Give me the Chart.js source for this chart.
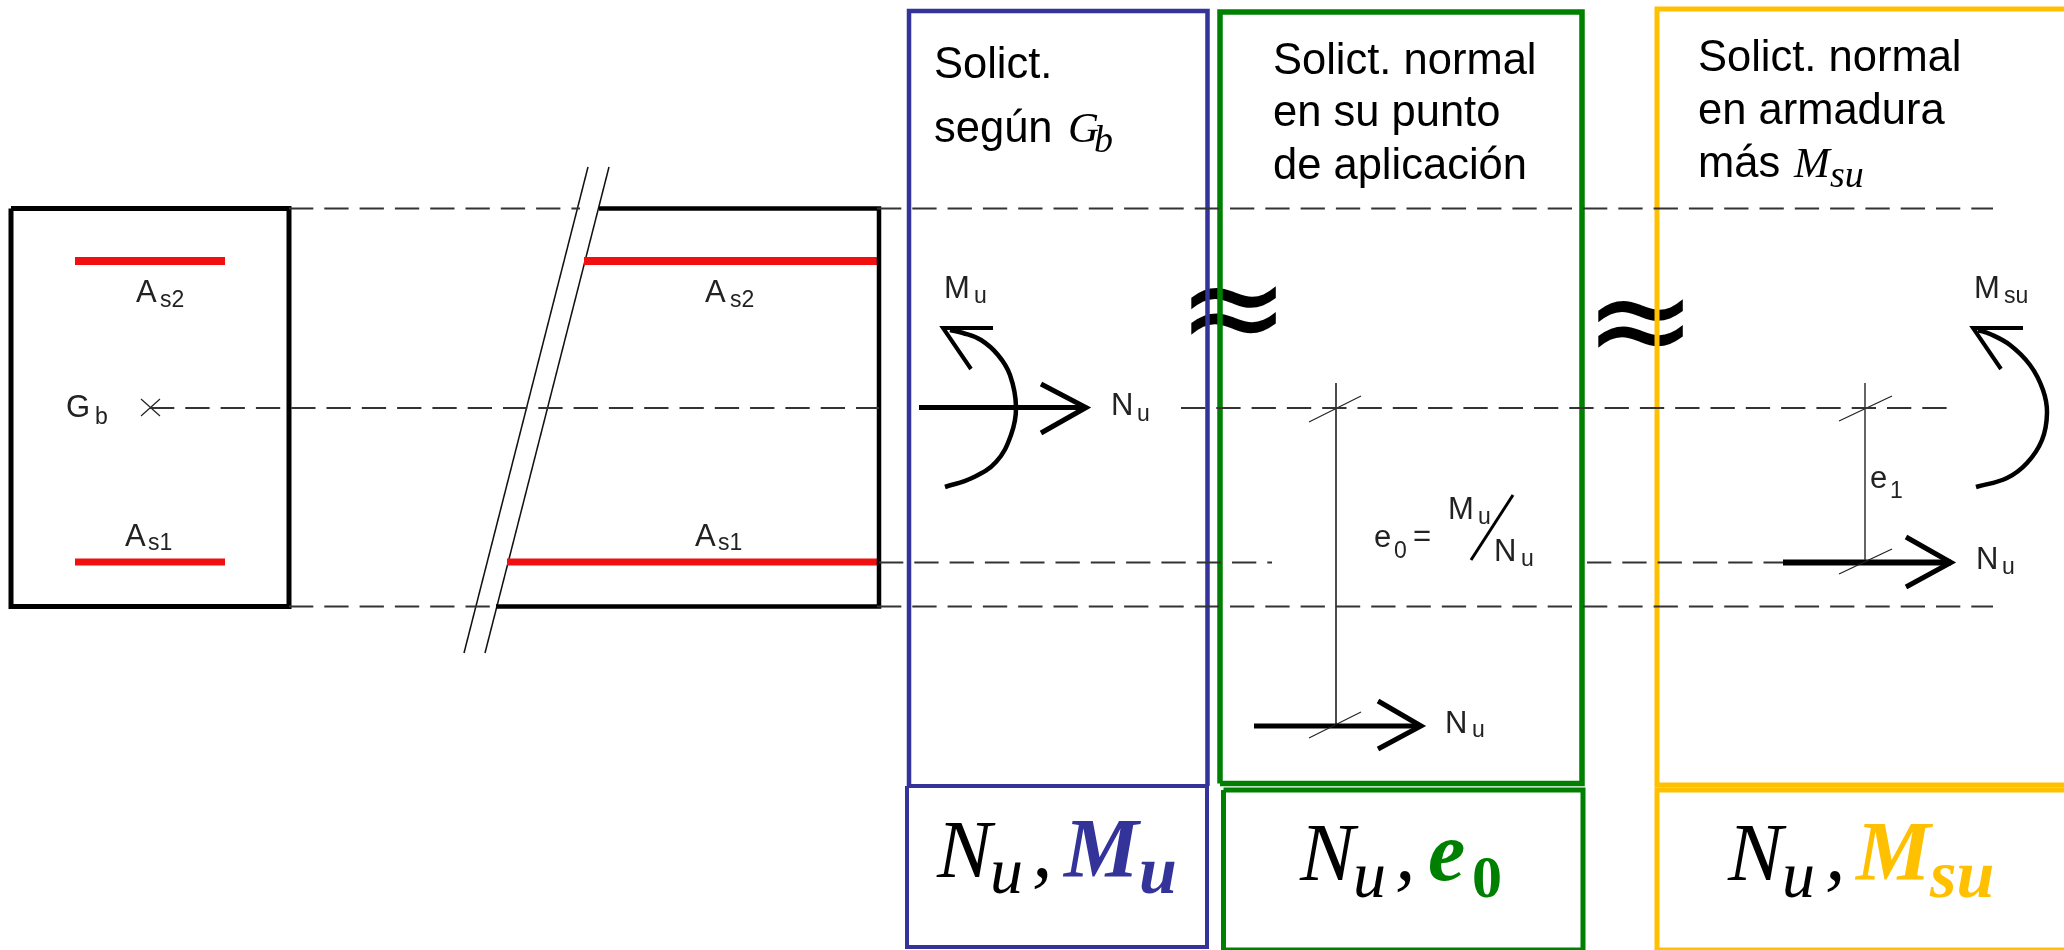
<!DOCTYPE html>
<html>
<head>
<meta charset="utf-8">
<title>Solicitaciones</title>
<script src="https://cdn.jsdelivr.net/npm/chart.js@4/dist/chart.umd.min.js"></script>
<style>
html, body { margin: 0; padding: 0; background: #fff; overflow: hidden; }
canvas { display: block; }
</style>
</head>
<body>
<canvas id="chart" width="2064" height="950"></canvas>
<script>
// section drawing (x, y in picture units)
var dashTop = [[289, 208.5], [580, 208.5]];
var dashTopRight = [[877, 208.5], [1993, 208.5]];
var dashMidA = [[150, 408], [879, 408]];
var dashMidB = [[1181, 408], [1949, 408]];
var dashLowA = [[879, 562.5], [1272, 562.5]];
var dashLowB = [[1587, 562.5], [1783, 562.5]];
var dashBotA = [[289, 606.5], [495, 606.5]];
var dashBotB = [[877, 606.5], [1993, 606.5]];

var sectionLeft = [[11, 208.5], [289, 208.5], [289, 606.5], [11, 606.5], [11, 208.5]];
var sectionRight = [[599, 208.5], [879, 208.5], [879, 606.5], [496, 606.5]];
var rebarTopLeft = [[75, 261], [225, 261]];
var rebarBotLeft = [[75, 562], [225, 562]];
var rebarTopRight = [[584, 261], [879, 261]];
var rebarBotRight = [[507, 562], [879, 562]];
var breakLine1 = [[588, 167], [464, 653]];
var breakLine2 = [[609, 167], [485, 653]];
var crossA = [[141, 399], [160, 416]];
var crossB = [[160, 399], [141, 416]];

var boxBlue = [[909, 786], [909, 11], [1207.5, 11], [1207.5, 786]];
var boxBlueLow = [[907, 786], [1207, 786], [1207, 947], [907, 947], [907, 786]];
var boxGreen = [[1220, 783.5], [1220, 12], [1582, 12], [1582, 783.5], [1220, 783.5]];
var boxGreenLow = [[1223.5, 790], [1583, 790], [1583, 950], [1223.5, 950], [1223.5, 790]];
var boxYellow = [[2064, 9], [1657, 9], [1657, 785], [2064, 785]];
var boxYellowLow = [[2064, 790], [1657, 790], [1657, 950], [2064, 950]];

var nuShaftA = [[919, 407.5], [1086, 407.5]];
var nuHeadA = [[1041, 384], [1086, 407.5], [1041, 433]];
var muCurve = [[950, 330], [963, 333], [981, 340], [998, 355], [1010, 375], [1016, 407], [1011, 435], [996, 462], [972, 478], [945, 487]];
var muHead = [[993, 328], [943, 328], [971, 369]];

var axisMid = [[1336, 383], [1336, 725]];
var tickMidA = [[1309, 422], [1361, 396]];
var tickMidB = [[1309, 738], [1361, 712]];
var nuShaftB = [[1254, 726], [1421, 726]];
var nuHeadB = [[1378, 701], [1421, 726], [1378, 749]];
var fractionBar = [[1513, 495], [1471, 560]];

var axisRight = [[1865, 383], [1865, 560]];
var tickRightA = [[1839, 421], [1892, 396]];
var tickRightB = [[1839, 574], [1892, 549]];
var nuShaftC = [[1783, 562.5], [1951, 562.5]];
var nuHeadC = [[1906, 537], [1951, 562.5], [1906, 587]];
var msuCurve = [[1978, 330], [1990, 334], [2010, 345], [2030, 365], [2043, 390], [2047, 413], [2042, 440], [2027, 463], [2007, 478], [1976, 487]];
var msuHead = [[2023, 328], [1973, 328], [2001, 369]];

// text: string, x, baseline y, font, colour
var labelsBehind = [
    ['≈', 1177, 353, 'approx', '#000'],
    ['≈', 1584, 366, 'approx', '#000']
];
var labels = [
    ['A', 136, 302, 'tag', '#222'], ['s2', 160, 307, 'tagSub', '#222'],
    ['A', 125, 546, 'tag', '#222'], ['s1', 148, 550, 'tagSub', '#222'],
    ['A', 705, 302, 'tag', '#222'], ['s2', 730, 307, 'tagSub', '#222'],
    ['A', 695, 546, 'tag', '#222'], ['s1', 718, 550, 'tagSub', '#222'],
    ['G', 66, 417, 'tag', '#222'], ['b', 95, 424, 'tagSub', '#222'],
    ['M', 944, 298, 'tag', '#222'], ['u', 974, 303, 'tagSub', '#222'],
    ['N', 1111, 415, 'tag', '#222'], ['u', 1137, 421, 'tagSub', '#222'],
    ['N', 1445, 733, 'tag', '#222'], ['u', 1472, 737, 'tagSub', '#222'],
    ['e', 1374, 547, 'tag', '#222'], ['0', 1394, 558, 'tagSub', '#222'], ['=', 1413, 546, 'tag', '#222'],
    ['M', 1448, 519, 'tag', '#222'], ['u', 1478, 524, 'tagSub', '#222'],
    ['N', 1494, 561, 'tag', '#222'], ['u', 1521, 566, 'tagSub', '#222'],
    ['M', 1974, 298, 'tag', '#222'], ['su', 2004, 303, 'tagSub', '#222'],
    ['e', 1870, 488, 'tag', '#222'], ['1', 1890, 498, 'tagSub', '#222'],
    ['N', 1976, 569, 'tag', '#222'], ['u', 2002, 574, 'tagSub', '#222'],

    ['Solict.', 934, 78, 'head', '#000'],
    ['según', 934, 142, 'head', '#000'],
    ['G', 1068, 142, 'headMath', '#000'], ['b', 1094, 152, 'headMathSub', '#000'],
    ['Solict. normal', 1273, 74, 'head', '#000'],
    ['en su punto', 1273, 126, 'head', '#000'],
    ['de aplicación', 1273, 179, 'head', '#000'],
    ['Solict. normal', 1698, 71, 'head', '#000'],
    ['en armadura', 1698, 124, 'head', '#000'],
    ['más', 1698, 177, 'head', '#000'],
    ['M', 1794, 177, 'headMath', '#000'], ['su', 1830, 187, 'headMathSub', '#000'],

    ['N', 937, 877, 'math', '#000'], ['u', 990, 893, 'mathSub', '#000'], [',', 1032, 877, 'math', '#000'],
    ['M', 1064, 877, 'mathBold', '#333399'], ['u', 1139, 893, 'mathBoldSub', '#333399'],
    ['N', 1300, 880, 'math', '#000'], ['u', 1353, 897, 'mathSub', '#000'], [',', 1395, 880, 'math', '#000'],
    ['e', 1428, 880, 'mathBold', '#008000'], ['0', 1472, 897, 'digitBold', '#008000'],
    ['N', 1728, 880, 'math', '#000'], ['u', 1782, 897, 'mathSub', '#000'], [',', 1825, 880, 'math', '#000'],
    ['M', 1856, 880, 'mathBold', '#FFC000'], ['su', 1930, 897, 'mathBoldSub', '#FFC000']
];

var fonts = {
    approx: '135px "DejaVu Sans"',
    tag: '31px "Liberation Sans"',
    tagSub: '23px "Liberation Sans"',
    head: '43.5px "Liberation Sans"',
    headMath: 'italic 43px "Liberation Serif"',
    headMathSub: 'italic 38px "Liberation Serif"',
    math: 'italic 82px "Liberation Serif"',
    mathSub: 'italic 66px "Liberation Serif"',
    mathBold: 'italic bold 84px "Liberation Serif"',
    mathBoldSub: 'italic bold 68px "Liberation Serif"',
    digitBold: 'bold 60px "Liberation Serif"'
};

var BLUE = '#333399', GREEN = '#008000', YELLOW = '#FFC000', RED = '#F01010';

function series(points, color, width, extra) {
    var ds = {
        data: points.map(function (p) { return { x: p[0], y: p[1] }; }),
        showLine: true,
        borderColor: color,
        borderWidth: width,
        borderJoinStyle: 'miter',
        pointRadius: 0,
        clip: false,
        tension: 0
    };
    for (var k in extra) { ds[k] = extra[k]; }
    return ds;
}

var dashed = { borderDash: [24.3, 11] };
var smooth = { tension: 0.4, borderJoinStyle: 'round' };
var closed = { borderCapStyle: 'square' };

var datasets = [
    series(dashTop, '#333', 2, dashed),
    series(dashTopRight, '#333', 2, dashed),
    series(dashMidA, '#333', 2, dashed),
    series(dashMidB, '#333', 2, dashed),
    series(dashLowA, '#333', 2, dashed),
    series(dashLowB, '#333', 2, dashed),
    series(dashBotA, '#333', 2, dashed),
    series(dashBotB, '#333', 2, dashed),

    series(sectionLeft, '#000', 5, closed),
    series(sectionRight, '#000', 4.5),
    series(rebarTopLeft, RED, 8),
    series(rebarBotLeft, RED, 7),
    series(rebarTopRight, RED, 8),
    series(rebarBotRight, RED, 7),
    series(breakLine1, '#111', 1.5),
    series(breakLine2, '#111', 1.5),
    series(crossA, '#222', 1.2),
    series(crossB, '#222', 1.2),

    series(axisMid, '#111', 1.5),
    series(tickMidA, '#222', 1.2),
    series(tickMidB, '#222', 1.2),
    series(axisRight, '#333', 1.5),
    series(tickRightA, '#222', 1.2),
    series(tickRightB, '#222', 1.2),
    series(fractionBar, '#000', 3),

    series(nuShaftA, '#000', 5),
    series(nuHeadA, '#000', 5),
    series(muCurve, '#000', 4.5, smooth),
    series(muHead, '#000', 4),
    series(nuShaftB, '#000', 5),
    series(nuHeadB, '#000', 5),
    series(nuShaftC, '#000', 6),
    series(nuHeadC, '#000', 5),
    series(msuCurve, '#000', 4.5, smooth),
    series(msuHead, '#000', 4),

    series(boxBlue, BLUE, 4.5),
    series(boxBlueLow, BLUE, 4, closed),
    series(boxGreen, GREEN, 5.5, closed),
    series(boxGreenLow, GREEN, 5, closed),
    series(boxYellow, YELLOW, 5),
    series(boxYellowLow, YELLOW, 5)
];

function drawLabels(chart, list) {
    var ctx = chart.ctx;
    ctx.save();
    ctx.textAlign = 'left';
    ctx.textBaseline = 'alphabetic';
    list.forEach(function (t) {
        ctx.font = fonts[t[3]];
        ctx.fillStyle = t[4];
        ctx.fillText(t[0], chart.scales.x.getPixelForValue(t[1]), chart.scales.y.getPixelForValue(t[2]));
    });
    ctx.restore();
}

var textPlugin = {
    id: 'textPlugin',
    beforeDatasetsDraw: function (chart) { drawLabels(chart, labelsBehind); },
    afterDatasetsDraw: function (chart) { drawLabels(chart, labels); }
};

new Chart(document.getElementById('chart'), {
    type: 'scatter',
    data: { datasets: datasets },
    plugins: [textPlugin],
    options: {
        responsive: false,
        animation: false,
        devicePixelRatio: 1,
        layout: { padding: 0 },
        plugins: { legend: { display: false }, tooltip: { enabled: false }, title: { display: false } },
        scales: {
            x: { type: 'linear', display: false, min: 0, max: 2064 },
            y: { type: 'linear', display: false, min: 0, max: 950, reverse: true }
        }
    }
});
</script>
</body>
</html>
